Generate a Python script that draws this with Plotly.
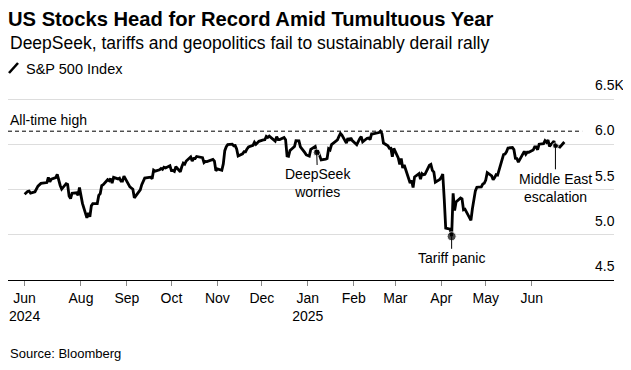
import plotly.graph_objects as go

# ---------------- data ----------------
dates = [
    # Jun 2024
    "2024-06-24", "2024-06-25", "2024-06-26", "2024-06-27", "2024-06-28",
    # Jul 2024
    "2024-07-01", "2024-07-02", "2024-07-03", "2024-07-05", "2024-07-08", "2024-07-09", "2024-07-10",
    "2024-07-11", "2024-07-12", "2024-07-15", "2024-07-16", "2024-07-17", "2024-07-18", "2024-07-19",
    "2024-07-22", "2024-07-23", "2024-07-24", "2024-07-25", "2024-07-26", "2024-07-29", "2024-07-30",
    "2024-07-31",
    # Aug 2024
    "2024-08-01", "2024-08-02", "2024-08-05", "2024-08-06", "2024-08-07", "2024-08-08", "2024-08-09",
    "2024-08-12", "2024-08-13", "2024-08-14", "2024-08-15", "2024-08-16", "2024-08-19", "2024-08-20",
    "2024-08-21", "2024-08-22", "2024-08-23", "2024-08-26", "2024-08-27", "2024-08-28", "2024-08-29",
    "2024-08-30",
    # Sep 2024
    "2024-09-03", "2024-09-04", "2024-09-05", "2024-09-06", "2024-09-09", "2024-09-10", "2024-09-11",
    "2024-09-12", "2024-09-13", "2024-09-16", "2024-09-17", "2024-09-18", "2024-09-19", "2024-09-20",
    "2024-09-23", "2024-09-24", "2024-09-25", "2024-09-26", "2024-09-27", "2024-09-30",
    # Oct 2024
    "2024-10-01", "2024-10-02", "2024-10-03", "2024-10-04", "2024-10-07", "2024-10-08", "2024-10-09",
    "2024-10-10", "2024-10-11", "2024-10-14", "2024-10-15", "2024-10-16", "2024-10-17", "2024-10-18",
    "2024-10-21", "2024-10-22", "2024-10-23", "2024-10-24", "2024-10-25", "2024-10-28", "2024-10-29",
    "2024-10-30", "2024-10-31",
    # Nov 2024
    "2024-11-01", "2024-11-04", "2024-11-05", "2024-11-06", "2024-11-07", "2024-11-08", "2024-11-11",
    "2024-11-12", "2024-11-13", "2024-11-14", "2024-11-15", "2024-11-18", "2024-11-19", "2024-11-20",
    "2024-11-21", "2024-11-22", "2024-11-25", "2024-11-26", "2024-11-27", "2024-11-29",
    # Dec 2024
    "2024-12-02", "2024-12-03", "2024-12-04", "2024-12-05", "2024-12-06", "2024-12-09", "2024-12-10",
    "2024-12-11", "2024-12-12", "2024-12-13", "2024-12-16", "2024-12-17", "2024-12-18", "2024-12-19",
    "2024-12-20", "2024-12-23", "2024-12-24", "2024-12-26", "2024-12-27", "2024-12-30", "2024-12-31",
    # Jan 2025
    "2025-01-02", "2025-01-03", "2025-01-06", "2025-01-07", "2025-01-08", "2025-01-10", "2025-01-13",
    "2025-01-14", "2025-01-15", "2025-01-16", "2025-01-17", "2025-01-21", "2025-01-22", "2025-01-23",
    "2025-01-24", "2025-01-27", "2025-01-28", "2025-01-29", "2025-01-30", "2025-01-31",
    # Feb 2025
    "2025-02-03", "2025-02-04", "2025-02-05", "2025-02-06", "2025-02-07", "2025-02-10", "2025-02-11",
    "2025-02-12", "2025-02-13", "2025-02-14", "2025-02-18", "2025-02-19", "2025-02-20", "2025-02-21",
    "2025-02-24", "2025-02-25", "2025-02-26", "2025-02-27", "2025-02-28",
    # Mar 2025
    "2025-03-03", "2025-03-04", "2025-03-05", "2025-03-06", "2025-03-07", "2025-03-10", "2025-03-11",
    "2025-03-12", "2025-03-13", "2025-03-14", "2025-03-17", "2025-03-18", "2025-03-19", "2025-03-20",
    "2025-03-21", "2025-03-24", "2025-03-25", "2025-03-26", "2025-03-27", "2025-03-28", "2025-03-31",
    # Apr 2025
    "2025-04-01", "2025-04-02", "2025-04-03", "2025-04-04", "2025-04-07", "2025-04-08", "2025-04-09",
    "2025-04-10", "2025-04-11", "2025-04-14", "2025-04-15", "2025-04-16", "2025-04-17", "2025-04-21",
    "2025-04-22", "2025-04-23", "2025-04-24", "2025-04-25", "2025-04-28", "2025-04-29", "2025-04-30",
    # May 2025
    "2025-05-01", "2025-05-02", "2025-05-05", "2025-05-06", "2025-05-07", "2025-05-08", "2025-05-09",
    "2025-05-12", "2025-05-13", "2025-05-14", "2025-05-15", "2025-05-16", "2025-05-19", "2025-05-20",
    "2025-05-21", "2025-05-22", "2025-05-23", "2025-05-27", "2025-05-28", "2025-05-29", "2025-05-30",
    # Jun 2025
    "2025-06-02", "2025-06-03", "2025-06-04", "2025-06-05", "2025-06-06", "2025-06-09", "2025-06-10",
    "2025-06-11", "2025-06-12", "2025-06-13", "2025-06-16", "2025-06-17", "2025-06-18", "2025-06-20",
    "2025-06-23",
]

closes = [
    # Jun 2024
    5447.9, 5469.3, 5477.9, 5482.9, 5460.5,
    # Jul 2024
    5475.1, 5509.0, 5537.0, 5567.2, 5572.9, 5577.0, 5633.9,
    5584.5, 5615.4, 5631.2, 5667.2, 5588.3, 5544.6, 5505.0,
    5564.4, 5555.7, 5427.1, 5399.2, 5459.1, 5463.5, 5436.4,
    5522.3,
    # Aug 2024
    5446.7, 5346.6, 5186.3, 5240.0, 5199.5, 5319.3, 5344.2,
    5344.4, 5434.4, 5455.2, 5543.2, 5554.3, 5608.3, 5597.1,
    5620.9, 5570.6, 5634.6, 5616.8, 5625.8, 5592.2, 5592.0,
    5648.4,
    # Sep 2024
    5528.9, 5520.1, 5503.4, 5408.4, 5471.1, 5495.5, 5554.1,
    5595.8, 5626.0, 5633.1, 5634.6, 5618.3, 5713.6, 5702.6,
    5718.6, 5732.9, 5722.3, 5745.4, 5738.2, 5762.5,
    # Oct 2024
    5708.8, 5709.5, 5699.9, 5751.1, 5695.9, 5751.1, 5792.0,
    5780.1, 5815.0, 5859.9, 5815.3, 5842.5, 5841.5, 5864.7,
    5854.0, 5851.2, 5797.4, 5809.9, 5808.1, 5823.5, 5832.9,
    5813.7, 5705.5,
    # Nov 2024
    5728.8, 5712.7, 5782.8, 5929.0, 5973.1, 5995.5, 6001.4,
    5984.0, 5985.4, 5949.2, 5870.6, 5893.6, 5917.0, 5917.1,
    5948.7, 5969.3, 5987.4, 6021.6, 5998.7, 6032.4,
    # Dec 2024
    6047.2, 6049.9, 6086.5, 6075.1, 6090.3, 6052.9, 6034.9,
    6084.2, 6051.3, 6051.1, 6074.1, 6050.6, 5872.2, 5867.1,
    5930.9, 5974.1, 6040.0, 6037.6, 5970.8, 5906.9, 5881.6,
    # Jan 2025
    5868.6, 5942.5, 5975.4, 5909.0, 5918.3, 5827.0, 5836.2,
    5842.9, 5949.9, 5937.3, 5996.7, 6049.2, 6086.4, 6118.7,
    6101.2, 6012.3, 6067.7, 6039.3, 6071.2, 6040.5,
    # Feb 2025
    5994.6, 6037.9, 6061.5, 6083.6, 6026.0, 6066.4, 6068.5,
    6052.0, 6115.1, 6114.6, 6129.6, 6144.2, 6117.5, 6013.1,
    5983.3, 5955.3, 5956.1, 5861.6, 5954.5,
    # Mar 2025
    5849.7, 5778.2, 5842.6, 5738.5, 5770.2, 5614.6, 5572.1,
    5599.3, 5521.5, 5638.9, 5675.1, 5614.7, 5675.3, 5662.9,
    5667.6, 5767.6, 5776.7, 5712.2, 5693.3, 5580.9, 5611.9,
    # Apr 2025
    5633.1, 5671.0, 5396.5, 5074.1, 5062.3, 4982.8, 5456.9,
    5268.1, 5363.4, 5406.0, 5396.6, 5275.7, 5282.7, 5158.2,
    5287.8, 5375.9, 5484.8, 5525.2, 5528.8, 5560.8, 5569.1,
    # May 2025
    5604.1, 5686.7, 5650.4, 5606.9, 5631.3, 5663.9, 5659.9,
    5844.2, 5886.6, 5892.6, 5916.9, 5958.4, 5963.6, 5940.5,
    5844.6, 5842.0, 5802.8, 5921.5, 5888.6, 5912.2, 5911.7,
    # Jun 2025
    5935.9, 5970.4, 5970.8, 5939.3, 6000.4, 6005.9, 6038.8,
    6022.2, 6045.3, 5977.0, 6033.1, 5982.7, 5980.9, 5967.8,
    6025.2,
]

series_name = "S&P 500 Index"

x_tick_dates = ["2024-06-24", "2024-08-01", "2024-09-01", "2024-10-01", "2024-11-01",
                "2024-12-01", "2025-01-01", "2025-02-01", "2025-03-01", "2025-04-01",
                "2025-05-01", "2025-06-01"]
x_tick_labels = ["Jun<br>2024", "Aug", "Sep", "Oct", "Nov", "Dec", "Jan<br>2025",
                 "Feb", "Mar", "Apr", "May", "Jun"]

y_tick_values = [4500, 5000, 5500, 6000, 6500]
y_tick_labels = ["4.5", "5.0", "5.5", "6.0", "6.5K"]

event_dates = ["2025-01-07", "2025-04-08", "2025-06-17"]
event_labels = ["DeepSeek<br>worries", "Tariff panic", "Middle East<br>escalation"]

ath_label = "All-time high"
ath_end_date = "2025-07-05"

# ---------------- layout constants ----------------
# the page body has an 8px default margin, so the figure is sized to fit
W, H = 623, 362
ML, MR, MT, MB = 0, 17, 72, 90
X_RANGE = ["2024-06-12 19:00", "2025-07-26 12:00"]
Y_RANGE = [4500, 6710]
FONT = "Liberation Sans, Arial, Helvetica, sans-serif"

event_offsets = [(1, 31, 7), (0, 22, 9), (0, 42, 6)]  # (ax, ay, marker size)

fig = go.Figure()

fig.add_trace(go.Scatter(
    x=dates, y=closes, mode="lines", name=series_name,
    line=dict(color="#000000", width=2.8, shape="linear"),
    showlegend=False,
))

event_values = [closes[dates.index(d)] for d in event_dates]
fig.add_trace(go.Scatter(
    x=event_dates, y=event_values, mode="markers",
    marker=dict(color="#000000", size=[o[2] for o in event_offsets]),
    showlegend=False, hoverinfo="skip",
))

# all-time high dashed line
ath = max(closes)
fig.add_shape(type="line", xref="x", yref="y", x0=X_RANGE[0], x1=ath_end_date,
              y0=ath, y1=ath, line=dict(color="#000000", width=1, dash="4px,3px"),
              layer="below")

annotations = []
annotations.append(dict(text=ath_label, xref="paper", x=0, xanchor="left",
                        yref="y", y=ath, yanchor="middle", yshift=11,
                        showarrow=False, font=dict(size=14, color="#000", family=FONT)))

for d, v, lab, (ax, ay, _) in zip(event_dates, event_values, event_labels, event_offsets):
    annotations.append(dict(text=lab, x=d, y=v, xref="x", yref="y",
                            showarrow=True, arrowhead=0, arrowwidth=1, arrowcolor="#000",
                            ax=ax, ay=ay, axref="pixel", ayref="pixel",
                            standoff=0, startstandoff=0,
                            font=dict(size=14, color="#000", family=FONT),
                            align="center"))

# subtitle, legend label, source
annotations.append(dict(text="DeepSeek, tariffs and geopolitics fail to sustainably derail rally",
                        xref="paper", yref="paper", x=0, y=(280 - 42.6) / 200,
                        xanchor="left", yanchor="middle", showarrow=False,
                        font=dict(size=17.5, color="#000", family=FONT)))
annotations.append(dict(text=series_name, xref="paper", yref="paper",
                        x=16 / 606, y=(280 - 69) / 200,
                        xanchor="left", yanchor="middle", showarrow=False,
                        font=dict(size=14.5, color="#000", family=FONT)))
annotations.append(dict(text="Source: Bloomberg", xref="paper", yref="paper",
                        x=0, y=(280 - 353) / 200, xanchor="left", yanchor="middle",
                        showarrow=False, font=dict(size=13, color="#000", family=FONT)))

# legend slash icon
fig.add_shape(type="line", xref="paper", yref="paper",
              x0=1 / 606, x1=10 / 606, y0=(280 - 73) / 200, y1=(280 - 63) / 200,
              line=dict(color="#000", width=2.6))

fig.update_layout(
    width=W, height=H,
    margin=dict(l=ML, r=MR, t=MT, b=MB, pad=0),
    paper_bgcolor="white", plot_bgcolor="white",
    showlegend=False,
    font=dict(family=FONT, color="#000", size=14),
    title=dict(text="<b>US Stocks Head for Record Amid Tumultuous Year</b>",
               x=0, xref="container", xanchor="left",
               y=1 - 10.7 / H, yref="container", yanchor="middle",
               pad=dict(l=0, r=0, t=0, b=0),
               font=dict(size=20.2, color="#000", family=FONT)),
    annotations=annotations,
    xaxis=dict(type="date", range=X_RANGE, tickmode="array",
               tickvals=x_tick_dates, ticktext=x_tick_labels,
               ticks="outside", ticklen=5, tickwidth=1, tickcolor="#888",
               showline=True, linecolor="#000", linewidth=1.2,
               showgrid=False, zeroline=False,
               tickfont=dict(size=14, color="#000", family=FONT)),
    yaxis=dict(range=Y_RANGE, side="right", tickmode="array",
               tickvals=y_tick_values, ticktext=y_tick_labels,
               ticks="", ticklabelposition="outside top", ticklabelstandoff=-20,
               ticklabelshift=-4,
               showgrid=True, gridcolor="#dddddd", gridwidth=1,
               zeroline=False, showline=False,
               tickfont=dict(size=14, color="#000", family=FONT)),
)

fig.write_html("out.html")
